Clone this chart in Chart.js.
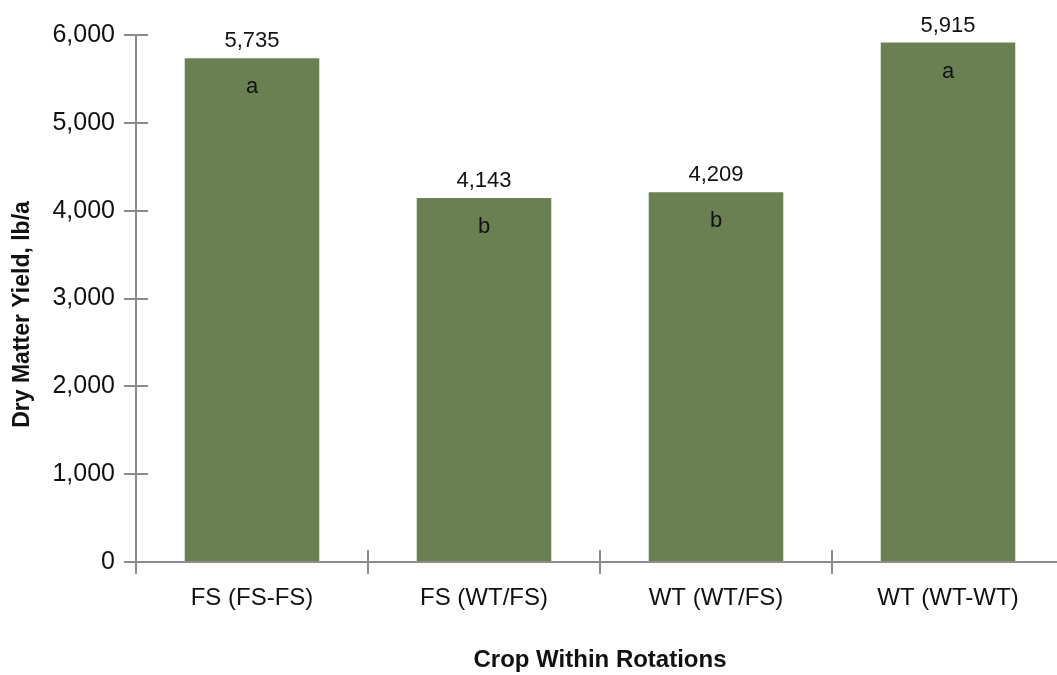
<!DOCTYPE html>
<html>
<head>
<meta charset="utf-8">
<script src="https://cdn.jsdelivr.net/npm/chart.js@4.4.1/dist/chart.umd.min.js"></script>
<style>
  html, body { margin: 0; padding: 0; background: #ffffff; overflow: hidden; }
  #wrap { position: relative; width: 1066px; height: 675px; }
</style>
</head>
<body>
<div id="wrap"><canvas id="c"></canvas></div>
<script>
const categories = ['FS (FS-FS)', 'FS (WT/FS)', 'WT (WT/FS)', 'WT (WT-WT)'];
const yieldValues = [5735, 4143, 4209, 5915];
const significanceLetters = ['a', 'b', 'b', 'a'];
const yTicks = [0, 1000, 2000, 3000, 4000, 5000, 6000];

const AXIS_COLOR = '#8b8b90';
const BAR_COLOR = '#6a8052';
const TEXT_COLOR = '#111111';
const FONT = '"Liberation Sans", Arial, Helvetica, sans-serif';
const TICK_LEN = 12;

const labelPlugin = {
  id: 'barLabels',
  afterDatasetsDraw(chart) {
    const ctx = chart.ctx;
    const meta = chart.getDatasetMeta(0);
    ctx.save();
    ctx.fillStyle = TEXT_COLOR;
    ctx.textAlign = 'center';
    ctx.textBaseline = 'middle';
    ctx.font = '22px ' + FONT;
    meta.data.forEach((bar, i) => {
      ctx.fillText(yieldValues[i].toLocaleString('en-US'), bar.x, bar.y - 17);
    });
    ctx.font = '22px ' + FONT;
    meta.data.forEach((bar, i) => {
      ctx.fillText(significanceLetters[i], bar.x, bar.y + 29);
    });
    ctx.restore();
  }
};

const innerTicks = {
  id: 'innerTicks',
  afterDraw(chart) {
    const ctx = chart.ctx;
    const y = chart.scales.y, x = chart.scales.x;
    ctx.save();
    ctx.strokeStyle = AXIS_COLOR;
    ctx.lineWidth = 2;
    ctx.beginPath();
    y.ticks.forEach((t) => {
      const py = Math.round(y.getPixelForValue(t.value));
      ctx.moveTo(y.right, py);
      ctx.lineTo(y.right + TICK_LEN, py);
    });
    for (let i = 1; i < categories.length; i++) {
      const px = Math.round((x.getPixelForValue(i - 1) + x.getPixelForValue(i)) / 2);
      ctx.moveTo(px, x.top);
      ctx.lineTo(px, x.top - TICK_LEN);
    }
    ctx.stroke();
    ctx.restore();
  }
};

new Chart(document.getElementById('c'), {
  type: 'bar',
  data: {
    labels: categories,
    datasets: [{
      data: yieldValues,
      backgroundColor: BAR_COLOR,
      borderWidth: 0,
      barPercentage: 0.58,
      categoryPercentage: 1.0
    }]
  },
  options: {
    responsive: true,
    maintainAspectRatio: false,
    animation: false,
    layout: { padding: { left: 4, right: 2, top: 35, bottom: 0 } },
    plugins: { legend: { display: false }, tooltip: { enabled: false } },
    scales: {
      x: {
        grid: { display: true, drawOnChartArea: false, offset: true, color: AXIS_COLOR, lineWidth: 2, tickLength: TICK_LEN },
        border: { display: true, color: AXIS_COLOR, width: 2 },
        ticks: { color: TEXT_COLOR, font: { family: FONT, size: 24 }, padding: 10, maxRotation: 0 },
        title: { display: true, text: 'Crop Within Rotations', color: TEXT_COLOR, font: { family: FONT, size: 24, weight: 'bold' }, padding: { top: 0, bottom: 0 } },
        afterFit(scale) { scale.height = 113; }
      },
      y: {
        min: 0,
        max: 6000,
        afterBuildTicks(scale) { scale.ticks = yTicks.map(v => ({ value: v })); },
        grid: { display: true, drawOnChartArea: false, color: AXIS_COLOR, lineWidth: 2, tickLength: TICK_LEN },
        border: { display: true, color: AXIS_COLOR, width: 2 },
        ticks: {
          color: TEXT_COLOR,
          font: { family: FONT, size: 25 },
          padding: 9,
          callback: (v) => Number(v).toLocaleString('en-US')
        },
        title: { display: true, text: 'Dry Matter Yield, lb/a\u00a0\u00a0\u00a0\u00a0\u00a0', color: TEXT_COLOR, font: { family: FONT, size: 23, weight: 'bold' }, padding: { top: 5, bottom: 0 } },
        afterFit(scale) { scale.width = 132; }
      }
    }
  },
  plugins: [labelPlugin, innerTicks]
});
</script>
</body>
</html>
